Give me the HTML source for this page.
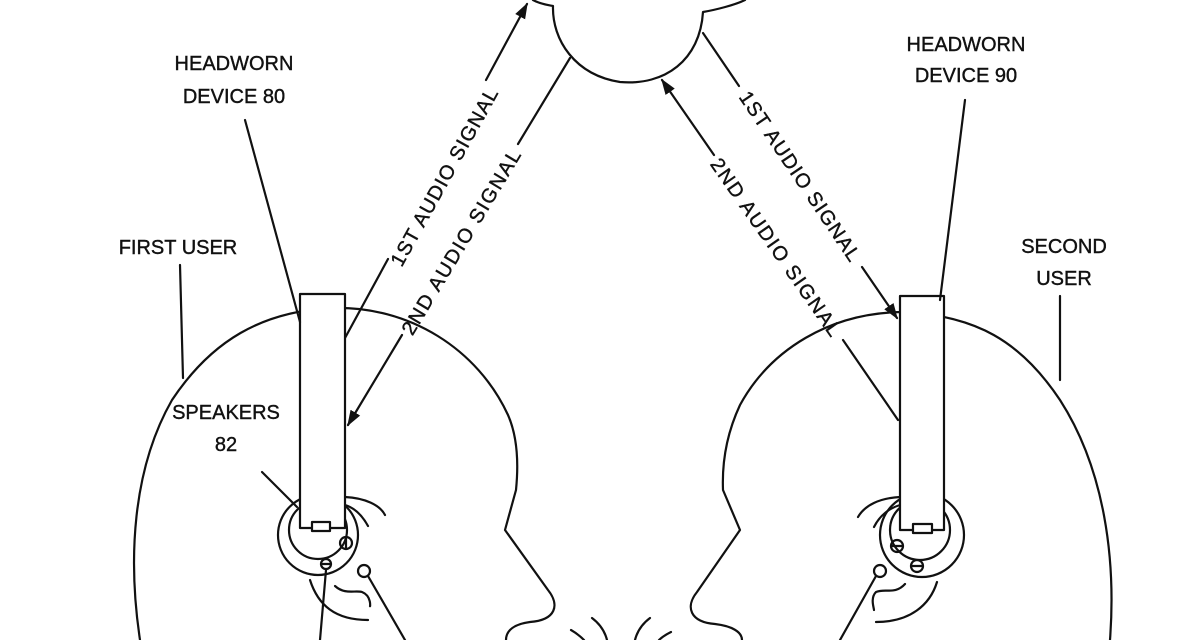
<!DOCTYPE html>
<html><head><meta charset="utf-8"><style>
html,body{margin:0;padding:0;background:#fff;}
svg{display:block;}
text{font-family:"Liberation Sans",sans-serif;font-size:20px;fill:#111;stroke:#111;stroke-width:0.4px;}
</style></head><body>
<svg width="1200" height="640" viewBox="0 0 1200 640" xmlns="http://www.w3.org/2000/svg">
<defs>
<marker id="ah2" viewBox="0 0 10 10" refX="9" refY="5" markerWidth="16" markerHeight="16" orient="auto" markerUnits="userSpaceOnUse">
<path d="M0,1.5 L10,5 L0,8.5 z" fill="#111"/></marker>
</defs>
<g fill="none" stroke="#111" stroke-width="2.2" stroke-linecap="round" stroke-linejoin="round">
<path d="M533,0 C540,4 548,5 553,6 C552,40 575,75 620,82 C665,86 700,60 703,12 C715,10 735,5 745,0"/>
<line x1="345" y1="338" x2="388" y2="259"/>
<line x1="486" y1="80" x2="527" y2="4" marker-end="url(#ah2)"/>
<line x1="570" y1="58" x2="518" y2="144"/>
<line x1="402" y1="335" x2="348" y2="425" marker-end="url(#ah2)"/>
<line x1="703" y1="33" x2="739" y2="86"/>
<line x1="862" y1="267" x2="897" y2="318" marker-end="url(#ah2)"/>
<line x1="898" y1="420" x2="843" y2="340"/>
<line x1="714" y1="155" x2="662" y2="80" marker-end="url(#ah2)"/>
<path d="M140,640 C128,560 132,470 172,400 C212,340 262,312 330,308 C410,305 478,350 508,415 C519,440 518,470 516,490 L505,530 L548,590 C560,605 556,620 530,622 C515,624 506,630 506,640"/>
<path d="M1110,640 C1116,560 1105,470 1060,400 C1020,340 975,316 905,312 C830,312 770,350 740,405 C726,435 722,465 723,490 L740,530 L697,592 C685,607 690,622 715,624 C732,626 742,632 742,640"/>
<path d="M592,618 C600,624 605,632 607,640"/><path d="M571,630 C578,634 582,638 584,640"/>
<path d="M650,618 C642,624 637,632 635,640"/><path d="M671,632 C665,635 661,638 659,640"/>
<path d="M345,497 C365,498 380,505 385,515"/>
<path d="M345,505 C355,508 362,515 368,526"/>
<circle cx="318" cy="535" r="40"/>
<circle cx="318" cy="530" r="29"/>
<rect x="300" y="294" width="45" height="234" fill="#fff"/>
<rect x="312" y="522" width="18" height="9" fill="#fff"/>
<circle cx="346" cy="543" r="6"/><line x1="346" y1="537" x2="346" y2="549"/>
<circle cx="326" cy="564" r="5"/><line x1="321" y1="564" x2="331" y2="564"/>
<circle cx="364" cy="571" r="6"/>
<path d="M310,580 C318,605 335,620 368,620"/>
<path d="M335,586 C345,595 355,590 362,592 C372,596 370,608 370,606"/>
<path d="M900,497 C880,498 865,505 858,517"/>
<path d="M900,505 C890,508 880,515 874,527"/>
<circle cx="922" cy="535" r="42"/>
<circle cx="920" cy="530" r="30"/>
<rect x="900" y="296" width="44" height="234" fill="#fff"/>
<rect x="913" y="524" width="19" height="9" fill="#fff"/>
<circle cx="897" cy="546" r="6"/><line x1="891" y1="546" x2="903" y2="546"/>
<circle cx="917" cy="566" r="6"/><line x1="911" y1="566" x2="923" y2="566"/>
<circle cx="880" cy="571" r="6"/>
<path d="M937,582 C930,605 910,622 876,622"/>
<path d="M905,584 C895,595 885,588 876,592 C870,598 874,608 874,610"/>
<line x1="245" y1="120" x2="300" y2="322"/>
<line x1="965" y1="100" x2="940" y2="300"/>
<line x1="180" y1="265" x2="183" y2="378"/>
<line x1="1060" y1="296" x2="1060" y2="380"/>
<line x1="262" y1="472" x2="297" y2="507"/>
<line x1="326" y1="570" x2="320" y2="640"/>
<line x1="368" y1="576" x2="405" y2="640"/>
<line x1="876" y1="576" x2="840" y2="640"/>
</g>
<text x="234" y="70" text-anchor="middle">HEADWORN</text>
<text x="234" y="103" text-anchor="middle">DEVICE 80</text>
<text x="966" y="51" text-anchor="middle">HEADWORN</text>
<text x="966" y="82" text-anchor="middle">DEVICE 90</text>
<text x="178" y="254" text-anchor="middle">FIRST USER</text>
<text x="1064" y="253" text-anchor="middle">SECOND</text>
<text x="1064" y="285" text-anchor="middle">USER</text>
<text x="226" y="419" text-anchor="middle">SPEAKERS</text>
<text x="226" y="451" text-anchor="middle">82</text>
<text transform="translate(444,177) rotate(-61)"><tspan x="-100" y="7" textLength="200" lengthAdjust="spacing">1ST AUDIO SIGNAL</tspan></text>
<text transform="translate(461,242) rotate(-59)"><tspan x="-106" y="7" textLength="212" lengthAdjust="spacing">2ND AUDIO SIGNAL</tspan></text>
<text transform="translate(800,176) rotate(56)"><tspan x="-100" y="7" textLength="200" lengthAdjust="spacing">1ST AUDIO SIGNAL</tspan></text>
<text transform="translate(776,247) rotate(55)"><tspan x="-106" y="7" textLength="212" lengthAdjust="spacing">2ND AUDIO SIGNAL</tspan></text>
</svg>
</body></html>
